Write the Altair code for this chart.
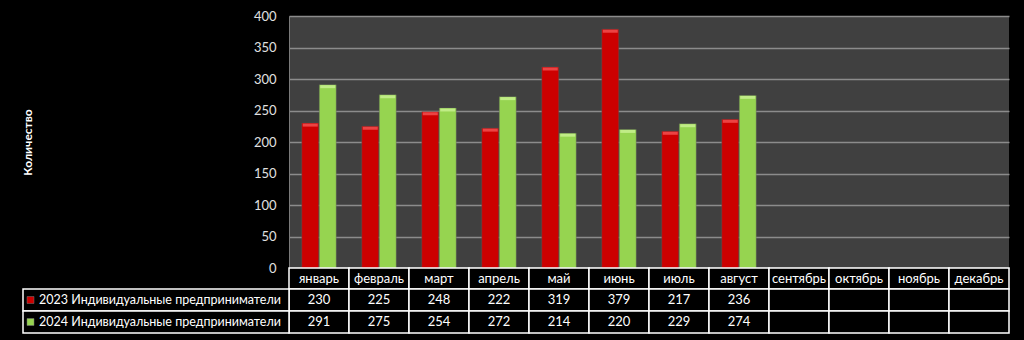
import altair as alt
import pandas as pd

months = ["январь", "февраль", "март", "апрель", "май", "июнь",
          "июль", "август", "сентябрь", "октябрь", "ноябрь", "декабрь"]
series = ["2023 Индивидуальные предприниматели", "2024 Индивидуальные предприниматели"]
vals_2023 = [230, 225, 248, 222, 319, 379, 217, 236, None, None, None, None]
vals_2024 = [291, 275, 254, 272, 214, 220, 229, 274, None, None, None, None]
colors = ["#cc0000", "#96d450"]
top_colors = ["#f04a4a", "#c4ee8c"]
y_ticks = [0, 50, 100, 150, 200, 250, 300, 350, 400]

FONT = "Lato"
rows = []
for m, a, b in zip(months, vals_2023, vals_2024):
    rows.append({"month": m, "series": series[0], "value": a})
    rows.append({"month": m, "series": series[1], "value": b})
df = pd.DataFrame(rows)
bars_df = df.dropna()
months_df = pd.DataFrame({"month": months})

xscale = alt.Scale(domain=months, paddingInner=0, paddingOuter=0)
X = alt.X("month:N", scale=xscale, axis=None)
XO = alt.XOffset("series:N", scale=alt.Scale(domain=series, paddingInner=0.03, paddingOuter=0.73))
yaxis = alt.Axis(values=y_ticks, grid=True, gridColor="#8c8c8c", gridWidth=1.5,
                 ticks=False, domain=True, domainColor="#7a7a7a", domainWidth=1,
                 labelColor="#e0e0e0", labelFont=FONT, labelFontSize=13,
                 labelPadding=13, title="Количество", titleColor="#ffffff",
                 titleFont=FONT, titleFontSize=12, titleFontWeight="bold",
                 titleX=-255, titleY=126, titleAngle=-90)

bars = alt.Chart(bars_df).mark_bar(stroke="#5a5a5a", strokeWidth=0.4).encode(
    x=X,
    xOffset=XO,
    y=alt.Y("value:Q", scale=alt.Scale(domain=[0, 400], nice=False), axis=yaxis),
    color=alt.Color("series:N", scale=alt.Scale(domain=series, range=colors), legend=None),
)

caps = alt.Chart(bars_df).mark_tick(thickness=3, size=15, yOffset=2, opacity=0.9).encode(
    x=X,
    xOffset=XO,
    y=alt.Y("value:Q", scale=alt.Scale(domain=[0, 400], nice=False), axis=yaxis),
    color=alt.Color("series:N", scale=alt.Scale(domain=series, range=top_colors), legend=None),
)

row_bounds = [(252, 273), (273, 295), (295, 317)]
cells = []
for (y0, y1) in row_bounds:
    cells.append(alt.Chart(months_df).mark_rect(fill="#000000", stroke="#ffffff", strokeWidth=1.5).encode(
        x=X, y=alt.value(y0), y2=alt.value(y1)))
for (y0, y1) in row_bounds[1:]:
    cells.append(alt.Chart(months_df.head(1)).mark_rect(fill="#000000", stroke="#ffffff", strokeWidth=1.5).encode(
        x=alt.value(-266), x2=alt.value(0), y=alt.value(y0), y2=alt.value(y1)))

header_txt = alt.Chart(months_df).mark_text(color="#ffffff", font=FONT, fontSize=13, baseline="middle").encode(
    x=X, y=alt.value(263), text="month:N")

val_txts = []
legend_parts = []
for i, s in enumerate(series):
    y0, y1 = row_bounds[i + 1]
    yc = (y0 + y1) / 2
    sdf = bars_df[bars_df["series"] == s]
    val_txts.append(alt.Chart(sdf).mark_text(color="#ffffff", font=FONT, fontSize=13, baseline="middle").encode(
        x=X, y=alt.value(yc), text=alt.Text("value:Q", format="d")))
    ldf = pd.DataFrame({"series": [s]})
    legend_parts.append(alt.Chart(ldf).mark_rect(fill=colors[i], stroke="#777777", strokeWidth=0.5).encode(
        x=alt.value(-262), x2=alt.value(-255), y=alt.value(yc - 3.5), y2=alt.value(yc + 3.5)))
    legend_parts.append(alt.Chart(ldf).mark_text(color="#ffffff", font=FONT, fontSize=12.5, align="left",
                                                 baseline="middle").encode(
        x=alt.value(-250), y=alt.value(yc), text="series:N"))

chart = alt.layer(bars, caps, *cells, header_txt, *val_txts, *legend_parts).resolve_scale(
    color="independent"
).properties(
    width=720, height=252,
    autosize=alt.AutoSizeParams(type="none"),
    padding={"left": 289, "top": 16, "right": 15, "bottom": 72},
    background="#000000",
).configure_view(fill="#404040", stroke=None)

chart.save("out.html", embed_options={"renderer": "svg", "actions": False})
